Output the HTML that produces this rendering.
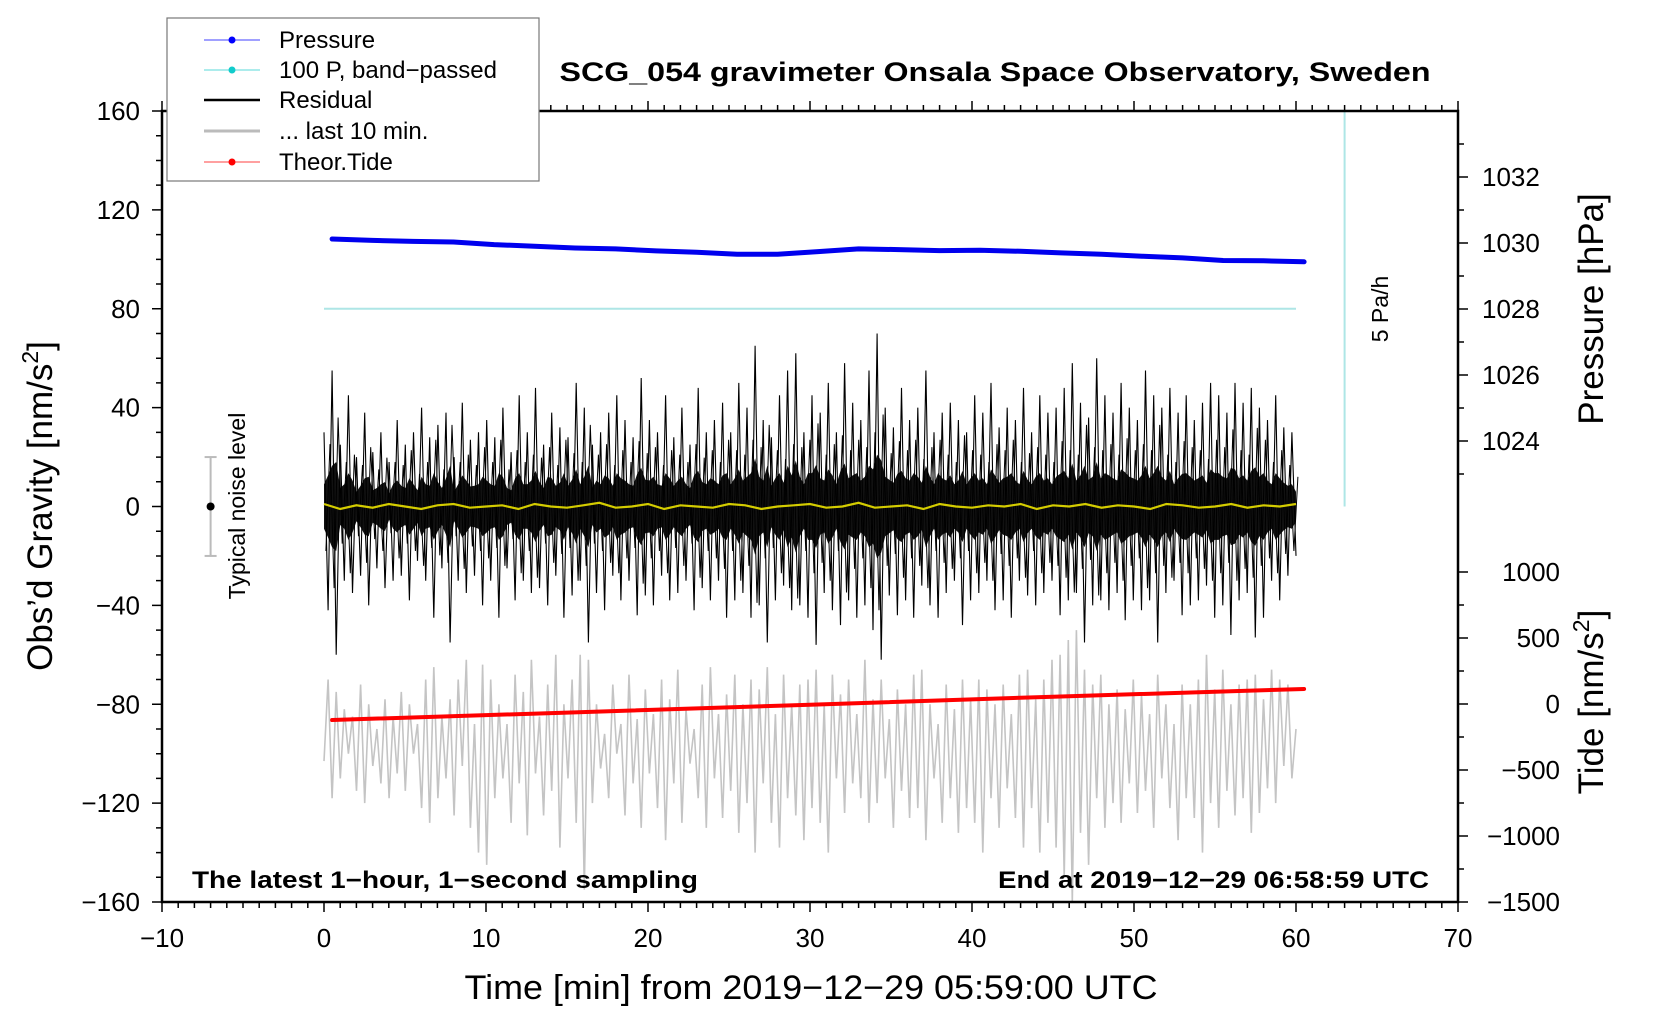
<!DOCTYPE html>
<html><head><meta charset="utf-8">
<style>
html,body{margin:0;padding:0;background:#fff;}
svg{display:block;font-family:"Liberation Sans",sans-serif;}
</style></head>
<body>
<svg id="chart" width="1660" height="1020" viewBox="0 0 1660 1020" xmlns="http://www.w3.org/2000/svg">
<g id="marks"></g>
<g id="axes"></g>
<text x="995" y="81" text-anchor="middle" font-size="27" font-weight="bold" textLength="871" lengthAdjust="spacingAndGlyphs">SCG_054 gravimeter Onsala Space Observatory, Sweden</text>
<text x="192" y="888" font-size="24" font-weight="bold" textLength="506" lengthAdjust="spacingAndGlyphs">The latest 1−hour, 1−second sampling</text>
<text x="1429" y="888" text-anchor="end" font-size="24" font-weight="bold" textLength="431" lengthAdjust="spacingAndGlyphs">End at 2019−12−29 06:58:59 UTC</text>
<text x="811" y="999" text-anchor="middle" font-size="34" textLength="693" lengthAdjust="spacingAndGlyphs">Time [min] from 2019−12−29 05:59:00 UTC</text>
<text transform="translate(52,506) rotate(-90)" text-anchor="middle" font-size="35">Obs’d Gravity [nm/s<tspan font-size="23" dy="-14">2</tspan><tspan dy="14">]</tspan></text>
<text transform="translate(1603,309) rotate(-90)" text-anchor="middle" font-size="35">Pressure [hPa]</text>
<text transform="translate(1603,702) rotate(-90)" text-anchor="middle" font-size="35">Tide [nm/s<tspan font-size="23" dy="-14">2</tspan><tspan dy="14">]</tspan></text>
<text transform="translate(1388,309) rotate(-90)" text-anchor="middle" font-size="23">5 Pa/h</text>
<text transform="translate(245,506) rotate(-90)" text-anchor="middle" font-size="23">Typical noise level</text>
<g>
<rect x="167" y="18" width="372" height="163" fill="#fff" stroke="#777" stroke-width="1.2"/>
<g><line x1="204" y1="40" x2="260" y2="40" stroke="#00f" stroke-width="0.8"/><circle cx="232" cy="40" r="3.5" fill="#00f"/><text x="279" y="48" font-size="24">Pressure</text></g>
<g><line x1="204" y1="70" x2="260" y2="70" stroke="#2cc" stroke-width="0.8"/><circle cx="232" cy="70" r="3.5" fill="#1cc"/><text x="279" y="78" font-size="24" textLength="218" lengthAdjust="spacingAndGlyphs">100 P, band−passed</text></g>
<g><line x1="204" y1="100" x2="260" y2="100" stroke="#000" stroke-width="2.5"/><text x="279" y="108" font-size="24">Residual</text></g>
<g><line x1="204" y1="131" x2="260" y2="131" stroke="#bbb" stroke-width="3"/><text x="279" y="139" font-size="24">... last 10 min.</text></g>
<g><line x1="204" y1="162" x2="260" y2="162" stroke="#f00" stroke-width="0.8"/><circle cx="232" cy="162" r="3.5" fill="#f00"/><text x="279" y="170" font-size="24">Theor.Tide</text></g>
</g>
</svg>
<script>
const xTicks=[-10,0,10,20,30,40,50,60,70];
const yTicks=[-160,-120,-80,-40,0,40,80,120,160];
const pTicks=[1024,1026,1028,1030,1032];
const tTicks=[-1500,-1000,-500,0,500,1000];
const residualVals=[30,-42,55,-60,25,-30,45,-35,20,-28,38,-40,22,-25,30,-33,18,-30,35,-28,
25,-38,30,-22,40,-30,28,-45,33,-25,38,-55,20,-30,42,-35,27,-28,30,-40,
35,-30,28,-45,40,-25,22,-38,45,-30,30,-35,48,-33,25,-40,38,-28,32,-45,
28,-36,50,-30,40,-55,25,-35,30,-42,38,-28,45,-38,35,-30,28,-44,52,-36,
35,-40,30,-28,45,-38,28,-35,40,-30,25,-42,48,-33,30,-38,35,-30,42,-45,
30,-38,50,-35,40,-45,65,-40,35,-55,28,-38,45,-32,55,-42,62,-40,30,-45,
45,-56,38,-35,50,-42,30,-48,58,-38,42,-45,35,-40,55,-50,70,-62,40,-36,
32,-44,48,-38,35,-45,40,-32,55,-40,30,-45,38,-35,42,-30,35,-48,30,-38,
45,-35,38,-30,50,-42,32,-38,40,-45,35,-30,48,-36,30,-40,45,-35,38,-30,
40,-44,48,-38,58,-35,42,-55,36,-40,60,-38,45,-42,38,-35,50,-46,40,-38,
35,-42,55,-38,45,-55,40,-35,48,-30,38,-44,45,-40,35,-38,42,-32,50,-45,
45,-40,38,-52,50,-38,42,-35,48,-53,40,-45,35,-30,45,-38,32,-28,30,-20];
const last10Vals=[-103,-70,-118,-75,-110,-82,-100,-85,-115,-72,-120,-80,-105,-90,-112,-78,-118,-85,-108,-75,
-115,-80,-100,-88,-122,-70,-128,-65,-118,-85,-110,-78,-125,-70,-105,-62,-130,-88,-140,-64,
-145,-70,-118,-80,-110,-88,-128,-68,-112,-75,-133,-62,-108,-85,-125,-72,-115,-60,-138,-80,
-110,-70,-128,-60,-155,-62,-120,-80,-106,-92,-118,-72,-100,-88,-125,-68,-112,-86,-130,-74,
-108,-84,-122,-70,-135,-78,-112,-66,-128,-82,-104,-90,-118,-72,-130,-65,-110,-84,-126,-76,
-115,-68,-132,-80,-120,-70,-140,-74,-112,-65,-128,-84,-138,-68,-118,-80,-125,-72,-135,-70,
-122,-66,-128,-80,-140,-68,-110,-76,-124,-70,-112,-84,-118,-62,-128,-78,-120,-70,-110,-86,
-130,-74,-115,-80,-126,-68,-122,-66,-135,-80,-110,-88,-128,-72,-118,-82,-132,-70,-122,-78,
-128,-70,-140,-74,-118,-80,-130,-72,-114,-84,-126,-68,-138,-66,-122,-78,-140,-70,-128,-62,
-138,-60,-150,-54,-160,-50,-132,-66,-145,-72,-118,-68,-130,-80,-120,-74,-128,-82,-112,-70,
-124,-76,-115,-84,-130,-68,-110,-80,-122,-88,-135,-72,-118,-80,-126,-70,-140,-60,-120,-74,
-130,-66,-115,-80,-125,-72,-118,-70,-132,-68,-124,-78,-114,-66,-120,-70,-105,-72,-110,-90];
const pressureTimes=[0.5,3,5.5,8,10.5,13,15.5,18,20.5,23,25.5,28,30.5,33,35.5,38,40.5,43,45.5,48,50.5,53,55.5,58,60.5];
const pressureVals=[1030.12,1030.08,1030.05,1030.03,1029.95,1029.9,1029.85,1029.82,1029.76,1029.72,1029.66,1029.66,1029.74,1029.82,1029.8,1029.77,1029.78,1029.75,1029.7,1029.66,1029.6,1029.55,1029.47,1029.46,1029.43];
const yellowVals=[1,-1,0.5,-0.5,1,0,-1,0.5,1,-0.5,0,0.5,-1,1,0,-0.5,0.5,1.5,-0.5,0,1,-1,0.5,0,-0.5,1,0.5,-1,0,0.5,1,-0.5,0,1.5,-0.5,0,0.5,-1,1,0,-0.5,0.5,0,1,-1,0.5,0,1,-0.5,0.5,0,-1,1,0.5,-0.5,0,1,-0.5,0.5,0,1];
const tideTimes=[0.5,15,30,45,60.5];
const tideVals=[-121,-65,-5,55,114];
const bandLevel=80;
const rateX=63;

const NS="http://www.w3.org/2000/svg";
const L=162,R=1458,T=111,B=902;
const sx=v=>L+(v+10)*(R-L)/80;
const sy=v=>B-(v+160)*(B-T)/320;
const sp=v=>243-(v-1030)*33;
const st=v=>704-v*66/500;
const marks=document.getElementById('marks');
const axes=document.getElementById('axes');
function mk(tag,attrs,parent){const e=document.createElementNS(NS,tag);for(const k in attrs)e.setAttribute(k,attrs[k]);parent.appendChild(e);return e;}

let cb=mk('line',{x1:sx(0),x2:sx(60),y1:sy(bandLevel),y2:sy(bandLevel),stroke:'#aee6e6','stroke-width':2},marks);


let cr=mk('line',{x1:sx(rateX),x2:sx(rateX),y1:T,y2:sy(0),stroke:'#aee6e6','stroke-width':2},marks);



let d='';const n=last10Vals.length;
last10Vals.forEach((v,i)=>{d+=(i?'L':'M')+sx(i*60/(n-1)).toFixed(1)+','+sy(v).toFixed(1);});
let g=mk('path',{d:d,fill:'none',stroke:'#c4c4c4','stroke-width':1.6},marks);



const rn=residualVals.length;
let band='';
residualVals.forEach((v,i)=>{band+=(i?'L':'M')+sx(i*60/(rn-1)).toFixed(1)+','+sy(Math.abs(v)*0.3).toFixed(1);});
for(let i=rn-1;i>=0;i--){band+='L'+sx(i*60/(rn-1)).toFixed(1)+','+sy(-Math.abs(residualVals[i])*0.3).toFixed(1);}
let rb=mk('path',{d:band+'Z',fill:'#111'},marks);


d='';
residualVals.forEach((v,i)=>{d+=(i?'L':'M')+sx(i*60/(rn-1)).toFixed(1)+','+sy(v).toFixed(1);});
let rs=mk('path',{d:d,fill:'none',stroke:'#000','stroke-width':1.1},marks);


d='';
residualVals.forEach((v,i)=>{d+=(i?'L':'M')+sx(i*60/(rn-1)+0.12).toFixed(1)+','+sy(-v*0.6).toFixed(1);});
let rs2=mk('path',{d:d,fill:'none',stroke:'#000','stroke-width':1},marks);



d='';const yn=yellowVals.length;
yellowVals.forEach((v,i)=>{d+=(i?'L':'M')+sx(i*60/(yn-1)).toFixed(1)+','+sy(v).toFixed(1);});
let yl=mk('path',{d:d,fill:'none',stroke:'#d4cc00','stroke-width':2.2},marks);



d='';
pressureVals.forEach((v,i)=>{d+=(i?'L':'M')+sx(pressureTimes[i]).toFixed(1)+','+sp(v).toFixed(1);});
let pl=mk('path',{d:d,fill:'none',stroke:'#0000ee','stroke-width':5,'stroke-linecap':'round','stroke-linejoin':'round'},marks);



d='';
tideVals.forEach((v,i)=>{d+=(i?'L':'M')+sx(tideTimes[i]).toFixed(1)+','+st(v).toFixed(1);});
let tl=mk('path',{d:d,fill:'none',stroke:'#f00','stroke-width':4,'stroke-linecap':'round'},marks);



let nb=mk('g',{},marks);


mk('line',{x1:sx(-7),x2:sx(-7),y1:sy(20),y2:sy(-20),stroke:'#bbb','stroke-width':2},nb);
mk('line',{x1:sx(-7)-6,x2:sx(-7)+6,y1:sy(20),y2:sy(20),stroke:'#bbb','stroke-width':2},nb);
mk('line',{x1:sx(-7)-6,x2:sx(-7)+6,y1:sy(-20),y2:sy(-20),stroke:'#bbb','stroke-width':2},nb);
mk('circle',{cx:sx(-7),cy:sy(0),r:4,fill:'#000'},nb);

let fr=mk('rect',{x:L,y:T,width:R-L,height:B-T,fill:'none',stroke:'#000','stroke-width':2.5},axes);


let tk='';
for(let v=-10;v<=70;v++){const big=v%10===0;const x=sx(v);tk+=`M${x},${B}L${x},${B+(big?10:6)}M${x},${T}L${x},${T-(big?10:6)}`;}
for(let v=-160;v<=160;v+=10){const big=v%40===0;const y=sy(v);tk+=`M${L},${y}L${L-(big?10:6)},${y}`;}
for(let v=1023;v<=1033;v++){const big=v%2===0;const y=sp(v);if(y<T||y>B)continue;tk+=`M${R},${y}L${R+(big?10:6)},${y}`;}
for(let v=-1500;v<=1000;v+=250){const big=v%500===0;const y=st(v);tk+=`M${R},${y}L${R+(big?10:6)},${y}`;}
let tp=mk('path',{d:tk,stroke:'#000','stroke-width':1.5,fill:'none'},axes);


xTicks.forEach(v=>{const t=mk('text',{x:sx(v),y:947,'text-anchor':'middle','font-size':26},axes);t.textContent=String(v).replace('-','−');
 
 });
yTicks.forEach(v=>{const t=mk('text',{x:140,y:sy(v)+9,'text-anchor':'end','font-size':26},axes);t.textContent=String(v).replace('-','−');
 
 });
pTicks.forEach(v=>{const t=mk('text',{x:1482,y:sp(v)+9,'font-size':26},axes);t.textContent=String(v);
 
 });
tTicks.forEach(v=>{const t=mk('text',{x:1560,y:st(v)+9,'text-anchor':'end','font-size':26},axes);t.textContent=String(v).replace('-','−');
 
 });
</script>
</body></html>
